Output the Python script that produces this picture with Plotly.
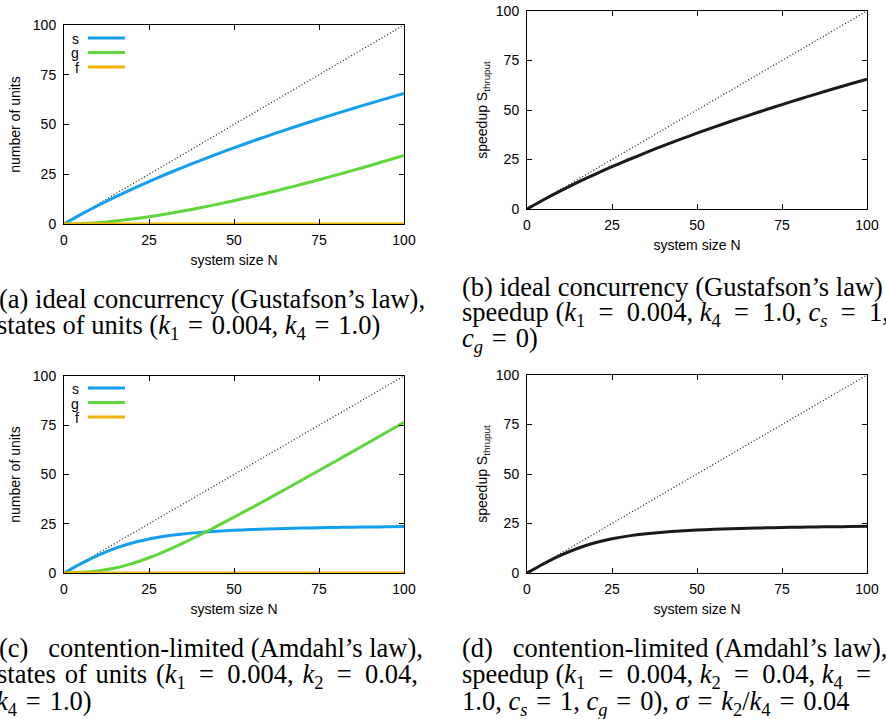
import plotly.graph_objects as go

# ---------------- data ----------------
N = [0, 5, 10, 15, 20, 25, 30, 35, 40, 45, 50, 55, 60, 65, 70, 75, 80, 85, 90, 95, 100]

s_gustafson = [0, 4.81, 9.31, 13.53, 17.54, 21.35, 25.0, 28.50, 31.87, 35.13, 38.28,
               41.33, 44.30, 47.19, 50.0, 52.74, 55.43, 58.05, 60.61, 63.12, 65.58]
g_gustafson = [0, 0.19, 0.69, 1.47, 2.46, 3.65, 5.0, 6.5, 8.13, 9.87, 11.72,
               13.67, 15.7, 17.81, 20.0, 22.26, 24.57, 26.95, 29.39, 31.88, 34.42]
f_gustafson = [0] * 21

s_amdahl = [0, 4.77, 8.99, 12.5, 15.24, 17.27, 18.75, 19.82, 20.62, 21.22, 21.68,
            22.05, 22.35, 22.59, 22.80, 22.97, 23.12, 23.25, 23.36, 23.46, 23.55]
g_amdahl = [0, 0.23, 1.01, 2.5, 4.76, 7.73, 11.25, 15.18, 19.38, 23.78, 28.32,
            32.95, 37.65, 42.41, 47.2, 52.03, 56.88, 61.75, 66.64, 71.54, 76.45]
f_amdahl = [0] * 21

speedup_gustafson = [0, 4.81, 9.31, 13.53, 17.54, 21.35, 25.0, 28.50, 31.87, 35.13, 38.28,
                     41.33, 44.30, 47.19, 50.0, 52.74, 55.43, 58.05, 60.61, 63.12, 65.58]
speedup_amdahl = [0, 4.77, 8.99, 12.5, 15.24, 17.27, 18.75, 19.82, 20.62, 21.22, 21.68,
                  22.05, 22.35, 22.59, 22.80, 22.97, 23.12, 23.25, 23.36, 23.46, 23.55]

ideal_N = [0, 100]
ideal = [0, 100]

tick_vals = [0, 25, 50, 75, 100]
tick_text = ["0", "25", "50", "75", "100"]
series_names = ["s", "g", "f"]

# ---------------- styling ----------------
W, H = 886, 719
BLUE = "#12a0ee"
GREEN = "#5fd63a"
ORANGE = "#f2b300"
SANS = "Liberation Sans, Arial, sans-serif"
SERIF = "Liberation Serif, Times New Roman, serif"


def px_x(p):
    return p / W


def px_y(p):
    return 1 - p / H


# plot-area pixel boxes: (left, right, top, bottom)
boxes = {
    1: (64, 404, 25, 224),
    2: (527, 867, 11, 209),
    3: (64, 404, 376, 573),
    4: (527, 867, 375, 573),
}

fig = go.Figure()


def add_line(k, x, y, color, width, dash="solid", shape="spline"):
    sfx = "" if k == 1 else str(k)
    fig.add_trace(go.Scatter(
        x=x, y=y, mode="lines", xaxis="x" + sfx, yaxis="y" + sfx,
        line=dict(color=color, width=width, dash=dash, shape=shape, smoothing=0.6),
        showlegend=False, hoverinfo="skip"))


DOT = dict(color="#222222", width=1.3, dash="1px,2.2px", shape="linear")
# panel (a)
add_line(1, ideal_N, ideal, **DOT)
add_line(1, N, s_gustafson, BLUE, 3)
add_line(1, N, g_gustafson, GREEN, 3)
add_line(1, N, f_gustafson, ORANGE, 3, shape="linear")
# panel (b)
add_line(2, ideal_N, ideal, **DOT)
add_line(2, N, speedup_gustafson, "#1a1a1a", 3)
# panel (c)
add_line(3, ideal_N, ideal, **DOT)
add_line(3, N, s_amdahl, BLUE, 3)
add_line(3, N, g_amdahl, GREEN, 3)
add_line(3, N, f_amdahl, ORANGE, 3, shape="linear")
# panel (d)
add_line(4, ideal_N, ideal, **DOT)
add_line(4, N, speedup_amdahl, "#1a1a1a", 3)

layout = dict(
    width=W, height=H, autosize=False,
    margin=dict(l=0, r=0, t=0, b=0, autoexpand=False),
    paper_bgcolor="white", plot_bgcolor="white",
    font=dict(family=SANS, size=14, color="black"),
    showlegend=False,
)

ytitles = {1: "number of units", 2: "speedup S<sub>thruput</sub>",
           3: "number of units", 4: "speedup S<sub>thruput</sub>"}
ystandoff = {1: 8, 2: 4, 3: 8, 4: 4}

for k, (l, r, t, b) in boxes.items():
    sfx = "" if k == 1 else str(k)
    common = dict(
        range=[0, 100], tickmode="array", tickvals=tick_vals, ticktext=tick_text,
        ticks="inside", ticklen=5, tickwidth=1, tickcolor="black",
        showline=True, linecolor="black", linewidth=1, mirror="ticks",
        showgrid=False, zeroline=False, fixedrange=True, automargin=False,
        tickfont=dict(family=SANS, size=14, color="black"),
    )
    layout["xaxis" + sfx] = dict(
        common, domain=[px_x(l), px_x(r)], anchor="y" + sfx,
        title=dict(text="system size N", font=dict(family=SANS, size=14), standoff=8),
        ticklabelstandoff=3,
    )
    layout["yaxis" + sfx] = dict(
        common, domain=[px_y(b), px_y(t)], anchor="x" + sfx,
        title=dict(text=ytitles[k], font=dict(family=SANS, size=14), standoff=ystandoff[k]),
        ticklabelstandoff=4,
    )

fig.update_layout(**layout)

# ---------------- manual gnuplot-style keys ----------------
legend_colors = [BLUE, GREEN, ORANGE]
for top_off in (0, 350):
    for i, (name, col) in enumerate(zip(series_names, legend_colors)):
        yline = 38 + top_off + i * 14.5
        fig.add_shape(type="line", xref="paper", yref="paper",
                      x0=px_x(88), x1=px_x(125), y0=px_y(yline), y1=px_y(yline),
                      line=dict(color=col, width=3))
        fig.add_annotation(xref="paper", yref="paper", x=px_x(81), y=px_y(yline + 1),
                           text=name, showarrow=False, xanchor="right", yanchor="middle",
                           font=dict(family=SANS, size=14, color="black"))

# ---------------- captions ----------------
NB = "\u00a0"
EQ = "\u2004=\u2004"      # normal math spacing around "="
EQJ = "\u2002=\u2002"     # stretched spacing (justified lines)
SP = "\u2004"             # slightly widened inter-word space
k1 = "<i>k</i><sub>1</sub>"
k2 = "<i>k</i><sub>2</sub>"
k4 = "<i>k</i><sub>4</sub>"
cs = "<i>c<sub>s</sub></i>"
cg = "<i>c<sub>g</sub></i>"
captions = [
    (-3, 299, "(a) ideal concurrency (Gustafson’s law),"),
    (-5, 327, f"states of units ({k1}{EQ}0.004, {k4}{EQ}1.0)"),
    (460, 287, "(b) ideal concurrency (Gustafson’s law)"),
    (460, 314, f"speedup ({k1}{EQJ}0.004, {k4}{EQJ}1.0, {cs}{EQJ}1,"),
    (460, 340, f"{cg}{EQ}0)"),
    (-3, 648, "(c)" + NB * 2 + " contention-limited (Amdahl’s law),"),
    (-5, 676, f"states{SP}of{SP}units{SP}({k1}{EQJ}0.004,{SP}{k2}{EQJ}0.04,"),
    (-6, 703, f"{k4}{EQ}1.0)"),
    (460, 648, "(d)" + NB * 2 + " contention-limited (Amdahl’s law),"),
    (460, 676, f"speedup ({k1}{EQJ}0.004, {k2}{EQJ}0.04, {k4}{EQJ}"),
    (460, 703, f"1.0, {cs}{EQ}1, {cg}{EQ}0), <i>σ</i>{EQ}{k2}/{k4}{EQ}0.04"),
]
for xp, yp, txt in captions:
    fig.add_annotation(xref="paper", yref="paper", x=px_x(xp), y=px_y(yp),
                       text=txt, showarrow=False, xanchor="left", yanchor="middle",
                       font=dict(family=SERIF, size=26.5, color="black"))

fig.write_html(
    "out.html",
    config={"displayModeBar": False},
    post_script="document.body.style.margin='0';document.body.style.overflow='hidden';",
)
